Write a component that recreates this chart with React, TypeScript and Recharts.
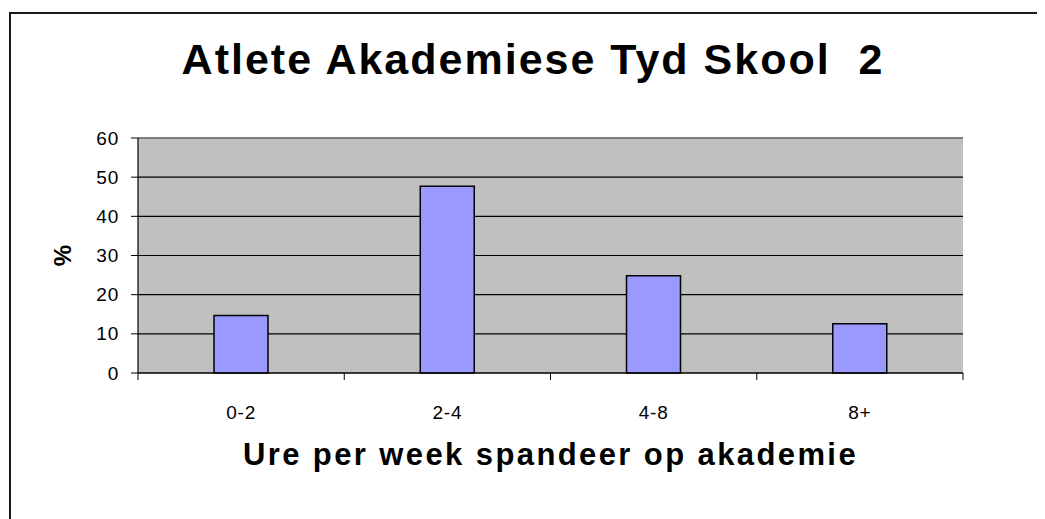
import { BarChart, Bar, XAxis, YAxis, CartesianGrid, ReferenceLine } from 'recharts';

const categories = ['0-2', '2-4', '4-8', '8+'];
const percents = [14.7, 47.7, 24.8, 12.6];
const yTicks = [0, 10, 20, 30, 40, 50, 60];

const data = categories.map((c, i) => ({ cat: c, pct: percents[i] }));

const FONT = '"Liberation Sans", Arial, sans-serif';

function PercentLabel({ viewBox }: any) {
  const cx = viewBox.x + 24;
  const cy = viewBox.y + viewBox.height / 2;
  return (
    <text x={cx} y={cy} transform={`rotate(-90 ${cx} ${cy})`} textAnchor="middle" dominantBaseline="central"
      fontSize={24} fontWeight="bold" fontFamily={FONT} fill="#000">
      %
    </text>
  );
}

function XTitle({ viewBox }: any) {
  return (
    <text x={viewBox.x + viewBox.width / 2} y={viewBox.y + 92} textAnchor="middle" fontSize={31}
      fontWeight="bold" fontFamily={FONT} letterSpacing={2.4} fill="#000">
      Ure per week spandeer op akademie
    </text>
  );
}

// category label plus the little tick marks at the band edges
function CatTick({ x, y, payload, index }: any) {
  const half = payload.offset || 0;
  const axisY = y - 31;
  const last = index === categories.length - 1;
  return (
    <g>
      <line x1={x - half} x2={x - half} y1={axisY} y2={axisY + 7} stroke="#000" />
      {last && <line x1={x + half} x2={x + half} y1={axisY} y2={axisY + 7} stroke="#000" />}
      <text x={x} y={y + 15} textAnchor="middle" fontSize={19} letterSpacing={0.8} fontFamily={FONT} fill="#000">
        {payload.value}
      </text>
    </g>
  );
}

function YTick({ x, y, payload }: any) {
  return (
    <text x={x} y={y} textAnchor="end" dominantBaseline="central" fontSize={19} letterSpacing={0.8}
      fontFamily={FONT} fill="#000">
      {payload.value}
    </text>
  );
}

export default function App() {
  return (
    <div style={{ position: 'relative', width: 1037, height: 511, fontFamily: FONT }}>
      <div style={{ position: 'absolute', left: 1, top: 4, right: 0, bottom: 0, borderTop: '2px solid #1a1a1a', borderLeft: '2px solid #1a1a1a' }} />
      <div style={{ position: 'absolute', left: 25, width: 1000, top: 28, textAlign: 'center', fontSize: 43, fontWeight: 'bold', letterSpacing: 2, lineHeight: '46px', whiteSpace: 'pre' }}>
        {'Atlete Akademiese Tyd Skool  2'}
      </div>
      <BarChart width={1037} height={511} data={data} margin={{ top: 130, right: 82, bottom: 46, left: 30 }}>
        <CartesianGrid vertical={false} fill="#C0C0C0" fillOpacity={1} stroke="#000" strokeWidth={1.2} />
        <XAxis dataKey="cat" height={100} tickLine={false} tickSize={7} tickMargin={24} interval={0}
          axisLine={{ stroke: '#000', strokeWidth: 1.2 }} tick={<CatTick />}
          label={{ content: XTitle }} />
        <YAxis domain={[0, 60]} ticks={yTicks} interval={0} width={100} tickSize={7} tickMargin={12}
          axisLine={{ stroke: '#000', strokeWidth: 1.2 }} tickLine={{ stroke: '#000' }}
          tick={<YTick />} label={{ content: PercentLabel }} />
        <ReferenceLine y={60} stroke="#808080" strokeWidth={1.5} />
        <Bar dataKey="pct" barSize={54} fill="#9999FF" stroke="#000" strokeWidth={1.5} isAnimationActive={false} />
      </BarChart>
    </div>
  );
}
